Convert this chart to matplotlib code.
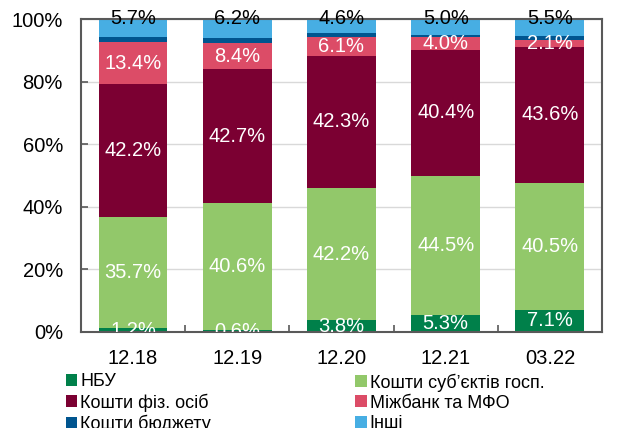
import matplotlib
matplotlib.use("Agg")
import matplotlib.pyplot as plt
from matplotlib.patches import Patch
import numpy as np

plt.rcParams['font.family'] = ['Liberation Sans', 'DejaVu Sans']

categories = ["12.18", "12.19", "12.20", "12.21", "03.22"]
series_names = ["НБУ", "Кошти суб’єктів госп.", "Кошти фіз. осіб",
                "Міжбанк та МФО", "Кошти бюджету", "Інші"]
nbu = [1.2, 0.6, 3.8, 5.3, 7.1]
corporates = [35.7, 40.6, 42.2, 44.5, 40.5]
households = [42.2, 42.7, 42.3, 40.4, 43.6]
interbank = [13.4, 8.4, 6.1, 4.0, 2.1]
budget = [1.8, 1.5, 1.0, 0.8, 1.2]
other = [5.7, 6.2, 4.6, 5.0, 5.5]

colors = ["#00804A", "#92C86A", "#7B0032", "#DC4C67", "#00558F", "#47AEE3"]
label_colors = ["white", "white", "white", "white", None, "black"]

series = [nbu, corporates, households, interbank, budget, other]

fig = plt.figure(figsize=(6.31, 4.28), dpi=100)
ax = fig.add_axes([0.1284, 0.2243, 0.954 - 0.1284, 0.9556 - 0.2243])
ax.set_axisbelow(True)
ax.grid(axis="y", color="#D9D9D9", linewidth=1)

x = np.arange(len(categories))
bottom = np.zeros(len(categories))
for vals, col, lc in zip(series, colors, label_colors):
    vals = np.array(vals)
    ax.bar(x, vals, 0.66, bottom=bottom, color=col, linewidth=0)
    if lc is not None:
        for xi, b, v in zip(x, bottom, vals):
            if lc == "black":
                # top labels sit at the top edge of the bars
                ax.text(xi, 100.2, f"{v:.1f}%", ha="center", va="center",
                        color=lc, fontsize=14.5, clip_on=False)
            else:
                ax.text(xi, b + v / 2, f"{v:.1f}%", ha="center", va="center",
                        color=lc, fontsize=14.5, clip_on=True)
    bottom += vals

ax.set_xlim(-0.5, len(categories) - 0.5)
ax.set_ylim(0, 100)
ax.set_yticks(range(0, 101, 20))
ax.set_yticklabels([f"{v}%" for v in range(0, 101, 20)])
ax.set_xticks(x)
ax.set_xticklabels(categories)
ax.set_xticks(x[:-1] + 0.5, minor=True)
ax.tick_params(axis="x", which="major", length=0, pad=12, labelsize=14.5)
ax.tick_params(axis="x", which="minor", direction="in", length=5,
               color="#595959", width=1.2)
ax.tick_params(axis="y", direction="in", length=5, pad=13, labelsize=14.5,
               color="#595959", width=1.2)
for sp in ax.spines.values():
    sp.set_color("#595959")
    sp.set_linewidth(1.5)

handles = [Patch(facecolor=c, edgecolor="none") for c in colors]
left_idx = [0, 2, 4]
right_idx = [1, 3, 5]
for idx, xpos in [(left_idx, 0.104), (right_idx, 0.563)]:
    leg = fig.legend([handles[i] for i in idx], [series_names[i] for i in idx],
                     loc="upper left", bbox_to_anchor=(xpos, 0.128),
                     frameon=False, fontsize=13, handlelength=0.65,
                     handleheight=0.65, handletextpad=0.15, labelspacing=0.18,
                     borderpad=0, borderaxespad=0)

fig.savefig("out.png", dpi=100)
